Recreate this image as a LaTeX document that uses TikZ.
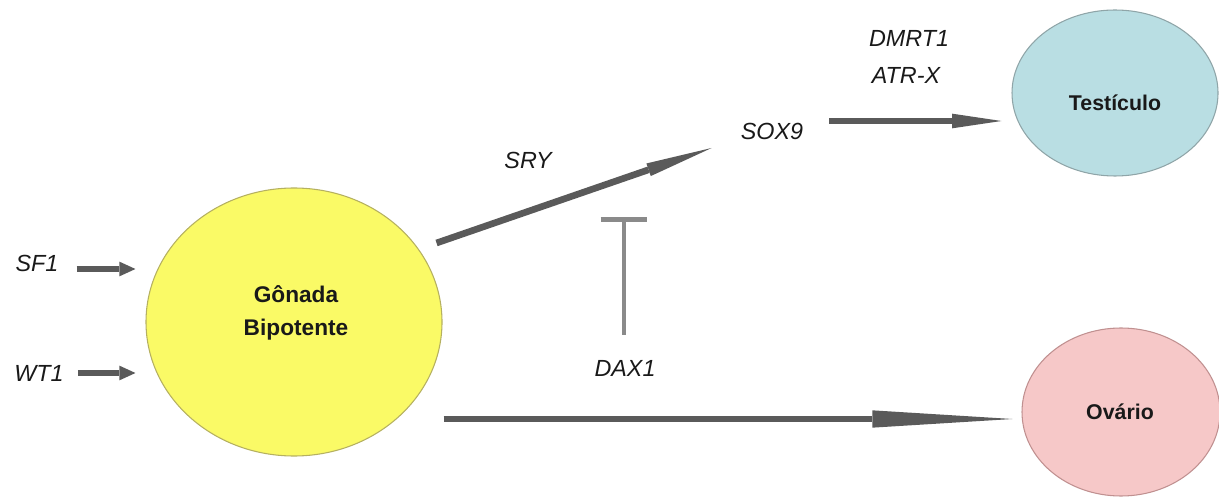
\documentclass[tikz,border=0pt]{standalone}
\usepackage{fontspec}
\setmainfont{Liberation Sans}
\usetikzlibrary{arrows.meta,calc,shapes.geometric}
\definecolor{arrgray}{HTML}{5A5A5A}
\definecolor{bargray}{HTML}{8A8A8A}
\definecolor{gonfill}{HTML}{FAFA66}
\definecolor{gonline}{HTML}{B5B060}
\definecolor{tesfill}{HTML}{B9DEE3}
\definecolor{tesline}{HTML}{8FA5A8}
\definecolor{ovafill}{HTML}{F6C8C8}
\definecolor{ovaline}{HTML}{C09090}
\tikzset{
  gene/.style={font=\fontsize{17.5}{20}\selectfont\itshape, inner sep=0pt, text=black!90},
  organ/.style={draw, ellipse, line width=0.8pt, inner sep=0pt},
  organtext/.style={font=\fontsize{16}{18}\selectfont\bfseries, inner sep=0pt, text=black!90},
  bigarrow/.style={draw=arrgray, line width=5pt},
  smallarrow/.style={draw=arrgray, line width=5pt, -{Triangle[length=12pt,width=11pt,line width=0pt]}},
}
\begin{document}
\begin{tikzpicture}[x=0.75pt,y=-0.75pt]
\useasboundingbox (0,0) rectangle (1219,498);
% organs
\node[organ, fill=gonfill, draw=gonline, minimum width=296*0.75pt, minimum height=268*0.75pt] (gonada) at (294,322) {};
\node[organtext, font=\fontsize{17}{24.5}\selectfont\bfseries, align=center] (gonadatext) at (296,313) {Gônada\\Bipotente};
\node[organ, fill=tesfill, draw=tesline, minimum width=206*0.75pt, minimum height=166*0.75pt] (testiculo) at (1115,93) {};
\node[organtext] (testiculotext) at (1115,103) {Testículo};
\node[organ, fill=ovafill, draw=ovaline, minimum width=198*0.75pt, minimum height=168*0.75pt] (ovario) at (1121,412) {};
\node[organtext] (ovariotext) at (1120,412) {Ovário};
% gene labels
\node[gene] (sf1) at (37,263) {SF1};
\node[gene] (wt1) at (39,373) {WT1};
\node[gene] (sry) at (528,160) {SRY};
\node[gene] (sox9) at (772,131) {SOX9};
\node[gene] (dmrt1) at (909,38) {DMRT1};
\node[gene] (atrx) at (906,75) {ATR-X};
\node[gene] (dax1) at (625,368) {DAX1};
% arrows into gonada
\draw[smallarrow] ($(sf1.east)+(18,6)$) -- ($(sf1.east -| gonada.west)+(-10,6)$);
\draw[smallarrow] ($(wt1.east)+(14,0)$) -- ($(wt1.east -| gonada.west)+(-10,0)$);
% SRY arrow
\draw[bigarrow, -{Triangle[length=50pt,width=10pt,line width=0pt]}] ($(gonada.east)+(-6,-79)$) -- ($(sox9.west)+(-29,17)$);
% testiculo arrow
\draw[bigarrow, -{Triangle[length=37pt,width=11pt,line width=0pt]}] ($(sox9.east)+(26,-10)$) -- ($(testiculo.west)+(-10,28)$);
% ovario arrow
\draw[bigarrow, -{Triangle[length=105pt,width=13pt,line width=0pt]}] ($(gonada.east)+(1,97)$) -- ($(ovario.west)+(-9,7)$);
% DAX1 inhibition
\coordinate (inh) at (624,217);
\draw[draw=bargray, line width=3.5pt, -{Bar[width=35pt,line width=3.5pt]}] ($(dax1.north)+(-1,-25)$) -- (inh);
\end{tikzpicture}
\end{document}
